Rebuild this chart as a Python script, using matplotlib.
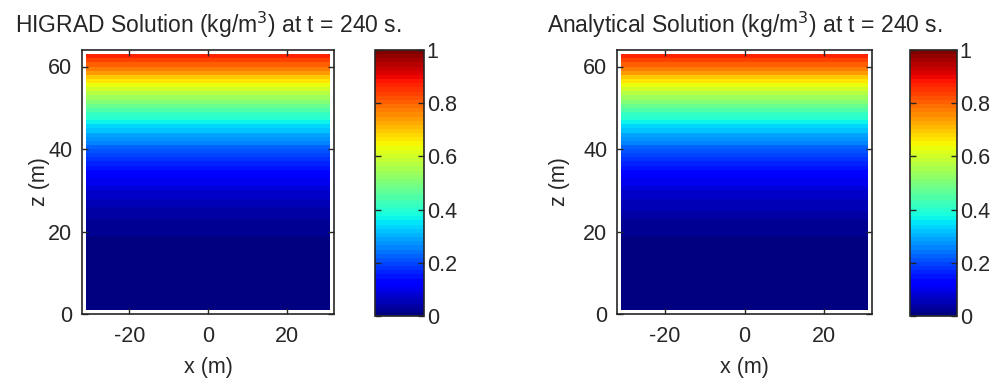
import numpy as np
import matplotlib
matplotlib.use("Agg")
import matplotlib.pyplot as plt

plt.rcParams['font.family'] = ['Liberation Sans', 'DejaVu Sans']
plt.rcParams['axes.unicode_minus'] = False

# Grid cell edges (m)
x_edges = np.arange(-31, 32, 2)
z_edges = np.arange(1, 64, 1)

# Concentration per 1 m layer, bottom (z = 1-2 m) to top (z = 62-63 m), kg/m^3
higrad_profile = [0.000, 0.000, 0.000, 0.000, 0.001, 0.001, 0.001, 0.001, 0.002, 0.002,
                  0.003, 0.003, 0.004, 0.005, 0.007, 0.009, 0.011, 0.013, 0.017, 0.021,
                  0.025, 0.029, 0.034, 0.040, 0.046, 0.052, 0.059, 0.067, 0.076, 0.085,
                  0.095, 0.106, 0.118, 0.131, 0.145, 0.160, 0.176, 0.193, 0.211, 0.230,
                  0.250, 0.271, 0.294, 0.318, 0.342, 0.367, 0.393, 0.420, 0.449, 0.479,
                  0.509, 0.540, 0.571, 0.602, 0.633, 0.666, 0.700, 0.735, 0.770, 0.805,
                  0.840, 0.872]
analytical_profile = [0.000, 0.000, 0.000, 0.001, 0.001, 0.001, 0.001, 0.002, 0.002, 0.003,
                      0.003, 0.004, 0.005, 0.006, 0.008, 0.010, 0.012, 0.015, 0.018, 0.022,
                      0.026, 0.030, 0.035, 0.041, 0.047, 0.053, 0.060, 0.068, 0.077, 0.086,
                      0.096, 0.107, 0.119, 0.132, 0.146, 0.161, 0.177, 0.194, 0.212, 0.231,
                      0.251, 0.272, 0.295, 0.319, 0.343, 0.368, 0.394, 0.421, 0.450, 0.480,
                      0.510, 0.541, 0.572, 0.603, 0.634, 0.667, 0.701, 0.736, 0.771, 0.806,
                      0.841, 0.873]

titles = ["HIGRAD Solution (kg/m$^3$) at t = 240 s.",
          "Analytical Solution (kg/m$^3$) at t = 240 s."]
profiles = [higrad_profile, analytical_profile]

x_ticks = [-20, 0, 20]
z_ticks = [0, 20, 40, 60]
cb_ticks = [0, 0.2, 0.4, 0.6, 0.8, 1.0]
cb_labels = ["0", "0.2", "0.4", "0.6", "0.8", "1"]

cmap = plt.get_cmap('jet', 64)

fig = plt.figure(figsize=(10, 3.81), dpi=100)

W, H = 1000.0, 381.0
ax_boxes = [(82, 334), (617, 872)]
cb_boxes = [(375, 424), (910, 957)]
ylabel_centers = [40, 560]
top, bottom = 50, 314
cb_top, cb_bottom = 50, 316

fs = 15.5
edge = '0.15'
txt = '0.15'

for i in range(2):
    l, r = ax_boxes[i]
    ax = fig.add_axes([l / W, 1 - bottom / H, (r - l) / W, (bottom - top) / H])
    values = np.tile(np.asarray(profiles[i])[:, None], (1, len(x_edges) - 1))
    mesh = ax.pcolormesh(x_edges, z_edges, values, cmap=cmap, vmin=0, vmax=1,
                         shading='flat')
    ax.set_xlim(-32, 32)
    ax.set_ylim(0, 64)
    ax.set_xticks(x_ticks)
    ax.set_yticks(z_ticks)
    ax.tick_params(direction='in', top=True, right=True, length=4, width=1,
                   labelsize=fs, colors=edge, labelcolor=txt)
    ax.tick_params(axis='x', pad=9)
    ax.tick_params(axis='y', pad=7)
    for s in ax.spines.values():
        s.set_color(edge)
        s.set_linewidth(1.2)
    ax.set_xlabel("x (m)", fontsize=fs, color=txt, va='top')
    ax.xaxis.set_label_coords(0.5, (bottom - 357) / (bottom - top))
    ax.set_ylabel("z (m)", fontsize=fs, color=txt, va='center')
    ax.yaxis.set_label_coords((ylabel_centers[i] - l) / (r - l), 0.5)
    ax.set_title(titles[i], fontsize=16.5, color=txt, pad=12)

    cl, cr = cb_boxes[i]
    cax = fig.add_axes([cl / W, 1 - cb_bottom / H, (cr - cl) / W, (cb_bottom - cb_top) / H])
    cb = fig.colorbar(mesh, cax=cax, ticks=cb_ticks)
    cb.set_ticklabels(cb_labels)
    cb.outline.set_edgecolor(edge)
    cb.outline.set_linewidth(1.2)
    cax.tick_params(direction='in', left=True, right=True, length=4, width=1,
                    labelsize=fs, colors=edge, labelcolor=txt, pad=2)

fig.savefig("out.png", dpi=100)
